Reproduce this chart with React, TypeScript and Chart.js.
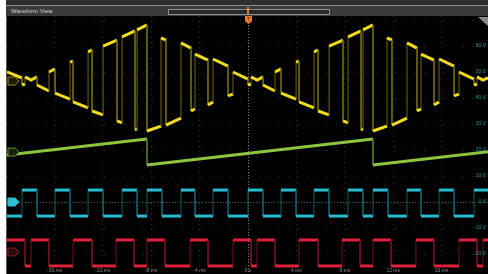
import React, { useEffect, useRef } from "react";
import { Chart, registerables } from "chart.js";
Chart.register(...registerables);

// time axis (ms) and voltage axis (V)
const timeTicks = [-16, -12, -8, -4, 0, 4, 8, 12, 16];
const timeTickLabels = ["-16 ms", "-12 ms", "-8 ms", "-4 ms", "0 s", "4 ms", "8 ms", "12 ms", "16 ms"];
const voltGrid = [70, 60, 50, 40, 30, 20, 10, 0, -10, -20];
const voltTicks = [60, 50, 40, 30, 20, 10, 0, -10, -20];
const voltTickLabels = ["60 V", "50 V", "40 V", "30 V", "20 V", "10 V", "0 V", "-10 V", "-20 V"];

// Channel 1 (yellow) — modulated waveform, points in ms / V
const ch1Time = [
  -19.92, -18.68, -18.68, -18.43, -18.43, -17.93, -17.44, -17.44, -16.45, -16.45, -15.95,
  -15.95, -14.71, -14.71, -14.46, -14.46, -13.22, -13.22, -12.89, -12.89, -11.98, -11.98,
  -10.83, -10.83, -10.41, -10.41, -9.34, -9.34, -9.17, -9.17, -8.35, -8.35, -7.19, -7.19,
  -6.78, -6.78, -5.54, -5.54, -4.71, -4.71, -4.38, -4.38, -3.31, -3.31, -2.89, -2.89,
  -1.65, -1.65, -1.24, -1.24, 0, 0, 0.25, 0.25, 0.75, 1.24, 1.24, 2.23, 2.23, 2.73,
  2.73, 3.97, 3.97, 4.22, 4.22, 5.46, 5.46, 5.79, 5.79, 6.7, 6.7, 7.85, 7.85, 8.27,
  8.27, 9.34, 9.34, 9.51, 9.51, 10.33, 10.33, 11.49, 11.49, 11.9, 11.9, 13.14, 13.14,
  13.97, 13.97, 14.3, 14.3, 15.37, 15.37, 15.79, 15.79, 17.03, 17.03, 17.44, 17.44,
  18.68, 18.68, 18.93, 18.93, 19.42, 19.835,
];
const ch1Volt = [
  50.0, 47.7, 45.0, 45.4, 48.1, 46.9, 48.1, 45.0, 42.7, 50.0, 51.2,
  41.9, 39.6, 53.8, 54.2, 38.5, 36.2, 57.7, 58.5, 35.0, 33.5, 60.0,
  62.3, 31.2, 30.4, 63.5, 65.8, 28.1, 27.7, 66.2, 68.1, 27.3, 29.2, 63.1,
  62.3, 29.6, 32.3, 61.2, 59.2, 35.0, 35.8, 56.9, 54.6, 37.3, 38.5, 55.0,
  52.3, 40.8, 41.5, 50.0, 47.3, 45.0, 45.4, 48.1, 46.9, 48.1, 45.0, 42.7, 50.0, 51.2,
  41.9, 39.6, 53.8, 54.2, 38.5, 36.2, 57.7, 58.5, 35.0, 33.5, 60.0, 62.3, 31.2, 30.4,
  63.5, 65.8, 28.1, 27.7, 66.2, 68.1, 27.3, 29.2, 63.1, 62.3, 29.6, 32.3, 61.2,
  59.2, 35.0, 35.8, 56.9, 54.6, 37.3, 38.5, 55.0, 52.3, 40.8, 41.5, 50.0,
  47.3, 45.0, 45.4, 48.1, 46.9, 47.8,
];

// Channel 2 (green) — sawtooth
const ch2Time = [-19.92, -8.35, -8.35, 10.33, 10.33, 19.835];
const ch2Volt = [18.1, 24.2, 14.2, 24.2, 14.2, 19.3];

// Channel 3 (cyan) — square wave edges (starts low)
const ch3Edges = [
  -18.68, -17.44, -15.95, -14.71, -13.22, -11.98, -10.41, -9.17, -8.35, -7.11, -5.54, -4.38,
  -2.89, -1.65, 0, 1.24, 2.73, 3.97, 5.45, 6.69, 8.26, 9.5, 10.33, 11.57, 13.14, 14.3,
  15.79, 17.02, 18.68,
];
const ch3Levels = [-5.4, 4.6]; // low, high

// Channel 4 (red) — square wave edges (starts high)
const ch4Edges = [
  -18.43, -17.93, -16.45, -14.46, -12.89, -10.91, -9.42, -8.35, -6.86, -4.79, -3.31, -1.24,
  0.25, 0.74, 2.23, 4.21, 5.79, 7.77, 9.26, 10.33, 11.82, 13.88, 15.37, 17.44, 18.93, 19.42,
];
const ch4Levels = [-24.6, -14.6]; // low, high

// channel ground markers on the left
const channelOffsets = [46.5, 19.2, 0, -19.2];

const X_MIN = -19.92;
const X_MAX = 19.835;
const Y_MIN = -27.69;
const Y_MAX = 71.54;

function pairs(ts: number[], vs: number[]) {
  return ts.map((t, i) => ({ x: t, y: vs[i] }));
}
function squarePoints(edges: number[], levels: number[], startHigh: boolean) {
  let high = startHigh;
  const pts = [{ x: X_MIN, y: high ? levels[1] : levels[0] }];
  for (const e of edges) {
    pts.push({ x: e, y: high ? levels[1] : levels[0] });
    high = !high;
    pts.push({ x: e, y: high ? levels[1] : levels[0] });
  }
  pts.push({ x: X_MAX, y: high ? levels[1] : levels[0] });
  return pts;
}

function seg(bright: string, dim: string) {
  return {
    borderColor: (c: any) => (c.p0.parsed.x === c.p1.parsed.x ? dim : bright),
    borderWidth: (c: any) => (c.p0.parsed.x === c.p1.parsed.x ? 1 : 3),
  };
}

const scopePlugin = {
  id: "scopeDecor",
  beforeDatasetsDraw(chart: any) {
    const { ctx, chartArea: a, scales } = chart;
    const x0 = scales.x.getPixelForValue(0);
    const y0 = scales.y.getPixelForValue(0);
    ctx.save();
    ctx.lineWidth = 1;
    ctx.setLineDash([1, 2]);
    ctx.strokeStyle = "#5a5a5a";
    ctx.beginPath();
    ctx.moveTo(a.left, Math.round(y0) + 0.5);
    ctx.lineTo(a.right, Math.round(y0) + 0.5);
    ctx.stroke();
    ctx.strokeStyle = "#7a7a7a";
    ctx.beginPath();
    ctx.moveTo(Math.round(x0) + 0.5, a.top);
    ctx.lineTo(Math.round(x0) + 0.5, a.bottom);
    ctx.stroke();
    ctx.restore();
  },
  afterDatasetsDraw(chart: any) {
    const { ctx, chartArea: a, scales } = chart;
    ctx.save();
    // bottom time labels
    ctx.font = '5px "Liberation Sans", Arial, sans-serif';
    ctx.fillStyle = "#8a8a8a";
    ctx.textAlign = "center";
    ctx.textBaseline = "middle";
    timeTicks.forEach((t, i) => {
      ctx.fillText(timeTickLabels[i], scales.x.getPixelForValue(t), a.bottom - 3);
    });
    // right voltage labels
    ctx.fillStyle = "#2a9aa8";
    ctx.textAlign = "right";
    voltTicks.forEach((v, i) => {
      ctx.fillText(voltTickLabels[i], a.right - 2, scales.y.getPixelForValue(v));
    });
    // channel markers
    const styles = [
      { fill: "#1e1c05", stroke: "#8f8620" },
      { fill: "#16220a", stroke: "#5f8a2a" },
      { fill: "#2bbfd2", stroke: "#2bbfd2" },
      { fill: "#2a0a0e", stroke: "#8c1c2c" },
    ];
    channelOffsets.forEach((v, i) => {
      const y = scales.y.getPixelForValue(v);
      const l = a.left + 1;
      ctx.beginPath();
      ctx.moveTo(l, y - 4);
      ctx.lineTo(l + 7, y - 4);
      ctx.lineTo(l + 11, y);
      ctx.lineTo(l + 7, y + 4);
      ctx.lineTo(l, y + 4);
      ctx.closePath();
      ctx.fillStyle = styles[i].fill;
      ctx.fill();
      ctx.lineWidth = 1;
      ctx.strokeStyle = styles[i].stroke;
      ctx.stroke();
    });
    // corner triangle
    ctx.fillStyle = "#8a8a8a";
    ctx.beginPath();
    ctx.moveTo(a.right - 10, a.top + 1);
    ctx.lineTo(a.right, a.top + 1);
    ctx.lineTo(a.right, a.top + 10);
    ctx.closePath();
    ctx.fill();
    ctx.restore();
  },
};

export default function App() {
  const ref = useRef<HTMLCanvasElement | null>(null);
  useEffect(() => {
    if (!ref.current) return;
    const chart = new Chart(ref.current, {
      type: "line",
      data: {
        datasets: [
          {
            data: pairs(ch1Time, ch1Volt),
            borderColor: "#f0dc1c",
            borderWidth: 3,
            pointRadius: 0,
            segment: seg("#f0dc1c", "#6e6812"),
          },
          {
            data: pairs(ch2Time, ch2Volt),
            borderColor: "#8cc63f",
            borderWidth: 3,
            pointRadius: 0,
            segment: seg("#8cc63f", "#4e7a22"),
          },
          {
            data: squarePoints(ch3Edges, ch3Levels, false),
            borderColor: "#26bcd2",
            borderWidth: 3,
            pointRadius: 0,
            segment: seg("#26bcd2", "#105e6a"),
          },
          {
            data: squarePoints(ch4Edges, ch4Levels, true),
            borderColor: "#e0203c",
            borderWidth: 3,
            pointRadius: 0,
            segment: seg("#e0203c", "#741220"),
          },
        ],
      },
      options: {
        animation: false,
        responsive: false,
        maintainAspectRatio: false,
        layout: { padding: 0 },
        plugins: { legend: { display: false }, tooltip: { enabled: false } },
        elements: { line: { tension: 0, borderCapStyle: "butt", borderJoinStyle: "miter" } },
        scales: {
          x: {
            type: "linear",
            min: X_MIN,
            max: X_MAX,
            afterBuildTicks: (s: any) => {
              s.ticks = timeTicks.map((v) => ({ value: v }));
            },
            grid: { color: "#363636", lineWidth: 1, drawTicks: false },
            border: { display: false, dash: [1, 4.2] },
            ticks: { display: false },
          },
          y: {
            type: "linear",
            min: Y_MIN,
            max: Y_MAX,
            afterBuildTicks: (s: any) => {
              s.ticks = voltGrid.map((v) => ({ value: v }));
            },
            grid: { color: "#363636", lineWidth: 1, drawTicks: false },
            border: { display: false, dash: [1, 8.7] },
            ticks: { display: false },
          },
        },
      } as any,
      plugins: [scopePlugin],
    });
    return () => chart.destroy();
  }, []);

  return (
    <div style={{ position: "absolute", left: 0, top: 0, width: 488, height: 274, background: "#ffffff", overflow: "hidden" }}>
      <div style={{ position: "absolute", left: 6, top: 0, width: 482, height: 5, background: "#2e2e2e" }} />
      <div style={{ position: "absolute", left: 6, top: 5, width: 482, height: 1, background: "#8a8a8a" }} />
      <div style={{ position: "absolute", left: 6, top: 6, width: 482, height: 10, background: "#3a3a3a" }} />
      <div style={{ position: "absolute", left: 11, top: 7, height: 9, lineHeight: "9px", fontSize: 6, color: "#cfcfcf", fontFamily: '"Liberation Sans", Arial, sans-serif' }}>
        Waveform View
      </div>
      <div style={{ position: "absolute", left: 168, top: 9, width: 160, height: 4, border: "1px solid #8f8f8f", background: "#2a2a2a" }} />
      <div style={{ position: "absolute", left: 6, top: 16, width: 1, height: 258, background: "#5a5a5a" }} />
      <canvas ref={ref} width={481} height={258} style={{ position: "absolute", left: 7, top: 16, width: 481, height: 258, background: "#000000" }} />
      <div style={{ position: "absolute", left: 247, top: 7, width: 2, height: 7, background: "#e8821e" }} />
      <div style={{ position: "absolute", left: 245, top: 16, width: 7, height: 8, background: "#e8821e", clipPath: "polygon(0 0, 100% 0, 100% 65%, 50% 100%, 0 65%)", fontSize: 5, lineHeight: "6px", color: "#3a1a00", textAlign: "center", fontFamily: "Arial, sans-serif" }}>
        T
      </div>
    </div>
  );
}
